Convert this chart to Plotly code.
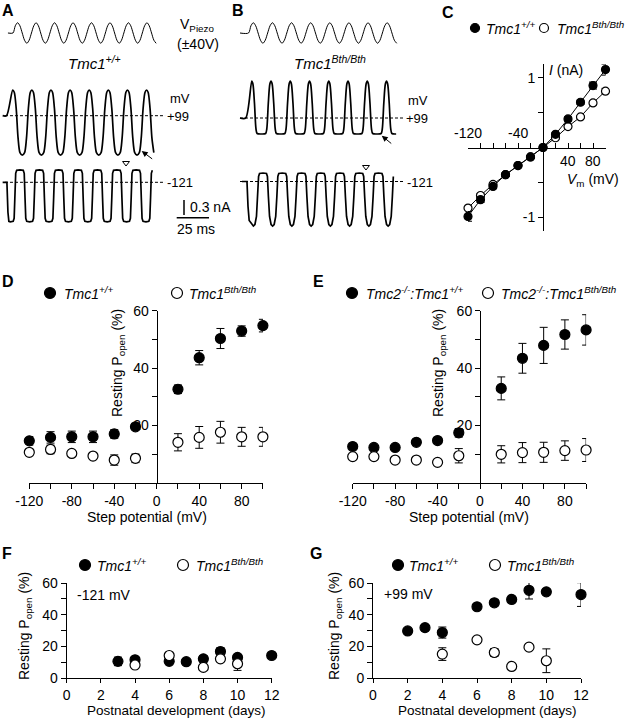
import plotly.graph_objects as go

W, H = 640, 720
FONT = "Liberation Sans, Arial, sans-serif"

# ---------------- Panels A/B: piezo stimulus and transduction currents ----------------
# one cycle of each waveform (phase in cycles -> value)
STIM_PHASE = [0.0, 0.125, 0.25, 0.375, 0.5, 0.625, 0.75, 0.875]
STIM_V = [0, 28, 40, 28, 0, -28, -40, -28]                     # V (±40 V)

A_UP_PHASE = [0.0, 0.08, 0.18, 0.28, 0.38, 0.5, 0.62, 0.72, 0.82, 0.92]
A_UP_NA = [0.51, 0.47, 0.15, -0.45, -0.74, -0.79, -0.74, -0.45, 0.15, 0.47]

A_LO_PHASE = [0.0, 0.15, 0.2, 0.24, 0.28, 0.33, 0.5, 0.67, 0.72, 0.76, 0.8, 0.85]
A_LO_NA = [-0.79, -0.78, -0.72, -0.3, 0.18, 0.24, 0.25, 0.24, 0.18, -0.3, -0.72, -0.78]

B_UP_PHASE = [0.0, 0.06, 0.14, 0.22, 0.28, 0.5, 0.72, 0.78, 0.86, 0.94]
B_UP_NA = [0.74, 0.68, 0.3, -0.22, -0.31, -0.32, -0.31, -0.22, 0.3, 0.68]

B_LO_PHASE = [0.0, 0.08, 0.16, 0.22, 0.27, 0.32, 0.5, 0.68, 0.73, 0.78, 0.84, 0.92]
B_LO_NA = [-0.89, -0.86, -0.7, -0.3, 0.1, 0.16, 0.17, 0.16, 0.1, -0.3, -0.7, -0.86]

# timing of each record: lead-in points (ms, value), first-cycle start, period (ms), cycles drawn
STIM_A_T = dict(lead_t=[4.6], lead_v=[0], t0=8.5, period=14.3, n=7.75)
STIM_B_T = dict(lead_t=[3.1], lead_v=[0], t0=9.7, period=14.8, n=7.75)
A_UP_T = dict(lead_t=[0.5, 3.5], lead_v=[0, 0], t0=8.3, period=14.8, n=7.44)
A_LO_T = dict(lead_t=[0.5, 3.8, 4.6, 5.3], lead_v=[0, 0, -0.6, -0.78], t0=6.4, period=15.0, n=7.33)
B_UP_T = dict(lead_t=[3.1, 7.5], lead_v=[0, 0], t0=12.2, period=14.9, n=7.6)
B_LO_T = dict(lead_t=[4.6, 8.5, 9.3, 10.2], lead_v=[0, 0, -0.5, -0.78], t0=13.45, period=14.9, n=7.3)

HOLD_A_MS = [2.3, 126.2]      # extent of the dashed resting-current lines
HOLD_B_MS = [3.1, 130.8]
TRI_A = ([96.0], [0.386])     # open triangle markers (ms, nA)
TRI_B = ([100.6], [0.29])
ARROW_A = (108.1, -0.706)
ARROW_B = (112.8, -0.354)
SCALE_NA = 0.3
SCALE_MS = 25

# ---------------- Panel C: I-V ----------------
C_VM = [-120, -100, -80, -60, -40, -20, 0, 20, 40, 60, 80, 100]
C_WT_I = [-0.99, -0.75, -0.56, -0.39, -0.26, -0.135, 0, 0.19, 0.41, 0.65, 0.89, 1.12]
C_WT_ERR = [0.07, 0.04, 0.03, 0.02, 0.02, 0.01, 0, 0.02, 0.03, 0.03, 0.05, 0.08]
C_BTH_I = [-0.87, -0.69, -0.53, -0.39, -0.26, -0.135, 0, 0.14, 0.30, 0.44, 0.64, 0.81]
C_BTH_ERR = [0.03, 0.03, 0.02, 0.02, 0.02, 0.01, 0, 0.02, 0.02, 0.02, 0.03, 0.04]

# ---------------- Panels D/E: resting Popen vs step potential ----------------
STEP_MV = [-120, -100, -80, -60, -40, -20, 20, 40, 60, 80, 100]
D_WT = [14.6, 15.8, 16.0, 16.0, 17.0, 19.5, 32.6, 43.6, 50.3, 52.9, 54.8]
D_WT_ERR = [1.5, 2.0, 2.0, 2.0, 1.5, 1.0, 1.5, 2.5, 3.5, 1.8, 2.2]
D_BTH = [10.6, 11.6, 10.2, 9.3, 7.9, 8.5, 14.1, 15.8, 17.6, 16.0, 16.0]
D_BTH_ERR = [1.0, 1.5, 1.0, 1.2, 1.8, 1.5, 3.0, 3.8, 3.8, 3.3, 3.3]

E_WT = [12.6, 12.3, 12.3, 14.1, 14.7, 17.4, 32.9, 43.4, 47.9, 51.7, 53.3]
E_WT_ERR = [0.5, 0.5, 0.5, 0.6, 1.0, 1.5, 4.0, 5.2, 6.3, 5.1, 5.3]
E_BTH = [9.1, 9.1, 7.9, 7.9, 7.1, 9.4, 9.9, 10.5, 10.6, 11.2, 11.4]
E_BTH_ERR = [0.5, 0.5, 0.6, 0.6, 1.0, 2.5, 3.0, 3.5, 3.5, 3.4, 4.0]

# ---------------- Panels F/G: development ----------------
F_WT_DAY = [3, 4, 6, 7, 8, 9, 10, 12]
F_WT = [10.5, 11.5, 10.5, 10.3, 12.1, 16.7, 13.0, 14.2]
F_WT_ERR = [2.7, 1.5, 0.8, 0.8, 2.0, 2.5, 1.0, 1.5]
F_BTH_DAY = [4, 6, 8, 9, 10]
F_BTH = [8.2, 14.2, 6.7, 12.1, 9.0]
F_BTH_ERR = [1.0, 1.0, 1.0, 1.0, 4.2]

G_WT_DAY = [2, 3, 4, 6, 7, 8, 9, 10, 12]
G_WT = [29.7, 31.8, 28.7, 45.0, 47.5, 49.6, 55.4, 54.4, 52.7]
G_WT_ERR = [0.8, 2.0, 3.5, 1.0, 2.0, 2.0, 5.5, 1.0, 7.5]
G_BTH_DAY = [4, 6, 7, 8, 9, 10]
G_BTH = [15.1, 24.1, 16.1, 7.3, 19.5, 10.9]
G_BTH_ERR = [4.0, 2.0, 2.5, 1.0, 2.0, 7.5]

WT = "<i>Tmc1<sup>+/+</sup></i>"
BTH = "<i>Tmc1<sup>Bth/Bth</sup></i>"
WT2 = "<i>Tmc2<sup>-/-</sup>:Tmc1<sup>+/+</sup></i>"
BTH2 = "<i>Tmc2<sup>-/-</sup>:Tmc1<sup>Bth/Bth</sup></i>"
POPEN = "Resting P<sub>open</sub> (%)"


# ---------------- helpers (layout only) ----------------
def fx(p):
    return p / W


def fy(p):
    return 1 - p / H


def dom_x(l, r):
    return [fx(l), fx(r)]


def dom_y(top, bottom):
    return [fy(bottom), fy(top)]


PX_PER_MS = 1.292
PX_PER_NA = 50.0
PX_PER_V = 10.3 / 40


def trace_frame(left, right, top, bottom, base, px_per_unit):
    xr = [0, (right - left) / PX_PER_MS]
    yr = [-(bottom - base) / px_per_unit, (base - top) / px_per_unit]
    return dom_x(left, right), xr, dom_y(top, bottom), yr


def build(timing, phases, values):
    t, v = list(timing["lead_t"]), list(timing["lead_v"])
    k = 0
    while True:
        for ph, val in zip(phases, values):
            c = k + ph
            if c > timing["n"] + 1e-9:
                return t, v
            t.append(timing["t0"] + c * timing["period"])
            v.append(val)
        k += 1


fig = go.Figure()
axes = {}


def xname(i):
    return "x" if i == 1 else f"x{i}"


def yname(i):
    return "y" if i == 1 else f"y{i}"


def set_axes(i, xa, ya):
    axes["xaxis" if i == 1 else f"xaxis{i}"] = xa
    axes["yaxis" if i == 1 else f"yaxis{i}"] = ya


AX = dict(showgrid=False, zeroline=False, showline=True, linecolor="black", linewidth=1,
          ticks="outside", ticklen=5, tickwidth=1, tickcolor="black",
          tickfont=dict(family=FONT, size=14, color="black"), fixedrange=True)
HIDDEN = dict(visible=False, showticklabels=False, ticks="", showgrid=False, zeroline=False,
              showline=False, fixedrange=True)

# ---- trace panels (axes 1..6) ----
frames = {
    1: trace_frame(2, 212, 15, 50, 33, PX_PER_V),
    2: trace_frame(2, 212, 75, 165, 115.7, PX_PER_NA),
    3: trace_frame(2, 212, 160, 240, 182.3, PX_PER_NA),
    4: trace_frame(236, 446, 15, 50, 33, PX_PER_V),
    5: trace_frame(236, 446, 70, 160, 118, PX_PER_NA),
    6: trace_frame(236, 446, 160, 240, 181.5, PX_PER_NA),
}
for i, (xd, xr, yd, yr) in frames.items():
    set_axes(i, dict(HIDDEN, domain=xd, range=xr, anchor=yname(i)),
             dict(HIDDEN, domain=yd, range=yr, anchor=xname(i)))

records = [
    (1, STIM_A_T, STIM_PHASE, STIM_V, "spline", 1.0),
    (2, A_UP_T, A_UP_PHASE, A_UP_NA, "spline", 1.7),
    (3, A_LO_T, A_LO_PHASE, A_LO_NA, "linear", 1.7),
    (4, STIM_B_T, STIM_PHASE, STIM_V, "spline", 1.0),
    (5, B_UP_T, B_UP_PHASE, B_UP_NA, "spline", 1.7),
    (6, B_LO_T, B_LO_PHASE, B_LO_NA, "linear", 1.7),
]
for i, timing, ph, vals, shape, lw in records:
    t, v = build(timing, ph, vals)
    fig.add_trace(go.Scatter(x=t, y=v, mode="lines", xaxis=xname(i), yaxis=yname(i),
                             line=dict(color="black", width=lw, shape=shape, smoothing=0.8),
                             showlegend=False, hoverinfo="skip"))

for i, (tx, ty) in ((3, TRI_A), (6, TRI_B)):
    fig.add_trace(go.Scatter(x=tx, y=ty, mode="markers", xaxis=xname(i), yaxis=yname(i),
                             marker=dict(symbol="triangle-down-open", size=6, color="black",
                                         line=dict(width=1)),
                             showlegend=False, hoverinfo="skip", cliponaxis=False))

shapes = []
for i, ext in ((2, HOLD_A_MS), (3, HOLD_A_MS), (5, HOLD_B_MS), (6, HOLD_B_MS)):
    shapes.append(dict(type="line", xref=xname(i), yref=yname(i), x0=ext[0], x1=ext[1], y0=0, y1=0,
                       line=dict(color="black", width=1, dash="3px,2px")))
# scale bars (0.3 nA, 25 ms) in panel A lower frame
sb_t = (184 - 2) / PX_PER_MS
sb_top = -(200 - 182.3) / PX_PER_NA
shapes.append(dict(type="line", xref="x3", yref="y3", x0=sb_t, x1=sb_t,
                   y0=sb_top, y1=sb_top - SCALE_NA, line=dict(color="black", width=1.5)))
hb_t0 = (176.7 - 2) / PX_PER_MS
hb_y = -(217.7 - 182.3) / PX_PER_NA
shapes.append(dict(type="line", xref="x3", yref="y3", x0=hb_t0, x1=hb_t0 + SCALE_MS,
                   y0=hb_y, y1=hb_y, line=dict(color="black", width=1.5)))

# ---- Panel C (axes 7) ----
set_axes(7,
         dict(AX, domain=dom_x(468, 605.5), range=[-120, 100], anchor="free", position=fy(147.5),
              tickvals=list(range(-120, 101, 20)), showticklabels=False, ticks="inside", ticklen=5),
         dict(AX, domain=dom_y(64, 231), range=[-1.2, 1.2], anchor="free", position=fx(543),
              tickvals=[-1, 1], ticktext=["-1", "1"], ticks="outside", ticklen=5,
              minor=dict(tickvals=[-0.5, 0.5], ticks="outside", ticklen=5, tickcolor="black")))
fig.add_trace(go.Scatter(x=C_VM, y=C_WT_I, mode="lines", xaxis="x7", yaxis="y7",
                         line=dict(color="black", width=1), showlegend=False, hoverinfo="skip"))
fig.add_trace(go.Scatter(x=C_VM, y=C_BTH_I, mode="lines", xaxis="x7", yaxis="y7",
                         line=dict(color="black", width=1), showlegend=False, hoverinfo="skip"))


def pts(x, y, err, i, filled, size, name):
    return go.Scatter(x=x, y=y, mode="markers", xaxis=xname(i), yaxis=yname(i), name=name,
                      showlegend=False, cliponaxis=False, hoverinfo="skip",
                      marker=dict(symbol="circle", size=size, color="black" if filled else "white",
                                  line=dict(color="black", width=1.2)),
                      error_y=dict(type="data", array=err, visible=True, color="black",
                                   thickness=1, width=4))


fig.add_trace(pts(C_VM, C_BTH_I, C_BTH_ERR, 7, False, 8, "Tmc1 Bth/Bth"))
fig.add_trace(pts(C_VM, C_WT_I, C_WT_ERR, 7, True, 8, "Tmc1 +/+"))

# ---- Panels D, E (axes 8, 9) ----
for i, xd, ypos in ((8, dom_x(29.3, 262.9), 156.7), (9, dom_x(352.7, 586.1), 480)):
    set_axes(i,
             dict(AX, domain=xd, range=[-120, 100], anchor=yname(i),
                  tickvals=[-120, -80, -40, 0, 40, 80],
                  ticktext=["-120", "-80", "-40", "0", "40", "80"],
                  minor=dict(tickvals=[-100, -60, -20, 20, 60, 100], ticks="outside", ticklen=5,
                             tickcolor="black")),
             dict(AX, domain=dom_y(310.7, 482.7), range=[0, 60], anchor="free", position=fx(ypos),
                  tickvals=[20, 40, 60], ticktext=["20", "40", "60"],
                  minor=dict(tickvals=[10, 30, 50], ticks="outside", ticklen=5, tickcolor="black")))

fig.add_trace(pts(STEP_MV, D_WT, D_WT_ERR, 8, True, 10, "Tmc1 +/+"))
fig.add_trace(pts(STEP_MV, D_BTH, D_BTH_ERR, 8, False, 10, "Tmc1 Bth/Bth"))
fig.add_trace(pts(STEP_MV, E_WT, E_WT_ERR, 9, True, 10, "Tmc2-/-:Tmc1 +/+"))
fig.add_trace(pts(STEP_MV, E_BTH, E_BTH_ERR, 9, False, 10, "Tmc2-/-:Tmc1 Bth/Bth"))

# ---- Panels F, G (axes 10, 11) ----
day_ticks = list(range(0, 13, 2))
for i, xd in ((10, dom_x(66.7, 271.7)), (11, dom_x(373, 581))):
    set_axes(i,
             dict(AX, domain=xd, range=[0, 12], anchor=yname(i), tickvals=day_ticks,
                  ticktext=[str(d) for d in day_ticks], ticklen=4),
             dict(AX, domain=dom_y(583, 678), range=[0, 60], anchor=xname(i),
                  tickvals=[0, 20, 40, 60], ticktext=["0", "20", "40", "60"],
                  minor=dict(tickvals=[10, 30, 50], ticks="outside", ticklen=5, tickcolor="black")))

fig.add_trace(pts(F_WT_DAY, F_WT, F_WT_ERR, 10, True, 10, "Tmc1 +/+"))
fig.add_trace(pts(F_BTH_DAY, F_BTH, F_BTH_ERR, 10, False, 10, "Tmc1 Bth/Bth"))
fig.add_trace(pts(G_WT_DAY, G_WT, G_WT_ERR, 11, True, 10, "Tmc1 +/+"))
fig.add_trace(pts(G_BTH_DAY, G_BTH, G_BTH_ERR, 11, False, 10, "Tmc1 Bth/Bth"))

# ---------------- annotations ----------------
ann = []


def text(t, x, y, size=14, xanchor="center", yanchor="middle", **kw):
    d = dict(text=t, x=fx(x), y=fy(y), xref="paper", yref="paper", showarrow=False,
             xanchor=xanchor, yanchor=yanchor, font=dict(family=FONT, size=size, color="black"))
    d.update(kw)
    ann.append(d)


for lab, x, y in (("A", 8, 0), ("B", 238, 0), ("C", 448, 2), ("D", 8, 271),
                  ("E", 318, 271), ("F", 7, 543), ("G", 316, 543)):
    text(f"<b>{lab}</b>", x, y, size=16, yanchor="top")

text("V<sub>Piezo</sub>", 178, 25, xanchor="left")
text("(±40V)", 198, 44)
text(WT, 94, 62, size=15)
text(BTH, 330, 62, size=15)
text("mV", 168, 99, xanchor="left", size=13)
text("+99", 165, 117, xanchor="left", size=13)
text("-121", 165, 182, xanchor="left", size=13)
text("mV", 406, 101, xanchor="left", size=13)
text("+99", 404, 119, xanchor="left", size=13)
text("-121", 405, 182, xanchor="left", size=13)
text("0.3 nA", 188, 207, xanchor="left")
text("25 ms", 196, 229)

ann.append(dict(x=ARROW_A[0], y=ARROW_A[1], xref="x2", yref="y2", ax=12, ay=9, text="",
                showarrow=True, arrowhead=2, arrowsize=1.2, arrowwidth=1, arrowcolor="black"))
ann.append(dict(x=ARROW_B[0], y=ARROW_B[1], xref="x5", yref="y5", ax=11, ay=9, text="",
                showarrow=True, arrowhead=2, arrowsize=1.2, arrowwidth=1, arrowcolor="black"))

# panel C axis labels (placed on the x scale)
for v, y in ((-120, 133), (-40, 133), (40, 161), (80, 161)):
    ann.append(dict(text=str(v), x=v, y=fy(y), xref="x7", yref="paper", showarrow=False,
                    xanchor="center", yanchor="middle",
                    font=dict(family=FONT, size=14, color="black")))
text("<i>I</i> (nA)", 547, 70, xanchor="left")
text("<i>V</i><sub>m</sub> (mV)", 593, 180)

# D/E/F/G titles
text(POPEN, 118, 363, textangle=-90)
text("Step potential (mV)", 147, 517)
text(POPEN, 439, 363, textangle=-90)
text("Step potential (mV)", 469, 517)
text("-121 mV", 75, 595, xanchor="left")
text(POPEN, 25, 626, textangle=-90)
text("Postnatal development (days)", 176, 720, size=13.5, yanchor="bottom")
text("+99 mV", 382, 594, xanchor="left")
text(POPEN, 335, 626, textangle=-90)
text("Postnatal development (days)", 487, 720, size=13.5, yanchor="bottom")

# legend keys: symbol + label for each panel
LEGENDS = [
    # (y, [(symbol x, filled, radius, text x, label), ...])
    (28, [(475, True, 4.5, 484, WT), (544, False, 4.5, 555, BTH)]),
    (293, [(50, True, 5.5, 62, WT), (177, False, 5.5, 187, BTH)]),
    (293, [(352, True, 5.5, 364, WT2), (488, False, 5.5, 499, BTH2)]),
    (565, [(85, True, 5.5, 95, WT), (183, False, 5.5, 194, BTH)]),
    (565, [(398, True, 5.5, 407, WT), (495, False, 5.5, 505, BTH)]),
]
for y, items in LEGENDS:
    for sx, filled, r, tx, lab in items:
        shapes.append(dict(type="circle", xref="paper", yref="paper",
                           x0=fx(sx - r), x1=fx(sx + r), y0=fy(y + r), y1=fy(y - r),
                           fillcolor="black" if filled else "white",
                           line=dict(color="black", width=1.2)))
        text(lab, tx, y, xanchor="left")

fig.update_layout(
    width=W, height=H, autosize=False,
    margin=dict(l=0, r=0, t=0, b=0, pad=0, autoexpand=False),
    paper_bgcolor="white", plot_bgcolor="white",
    font=dict(family=FONT, size=14, color="black"),
    showlegend=False,
    shapes=shapes, annotations=ann,
    **axes,
)

fig.write_html("out.html", config={"displayModeBar": False, "staticPlot": True},
               post_script="document.body.style.margin='0px';document.body.style.padding='0px';")
